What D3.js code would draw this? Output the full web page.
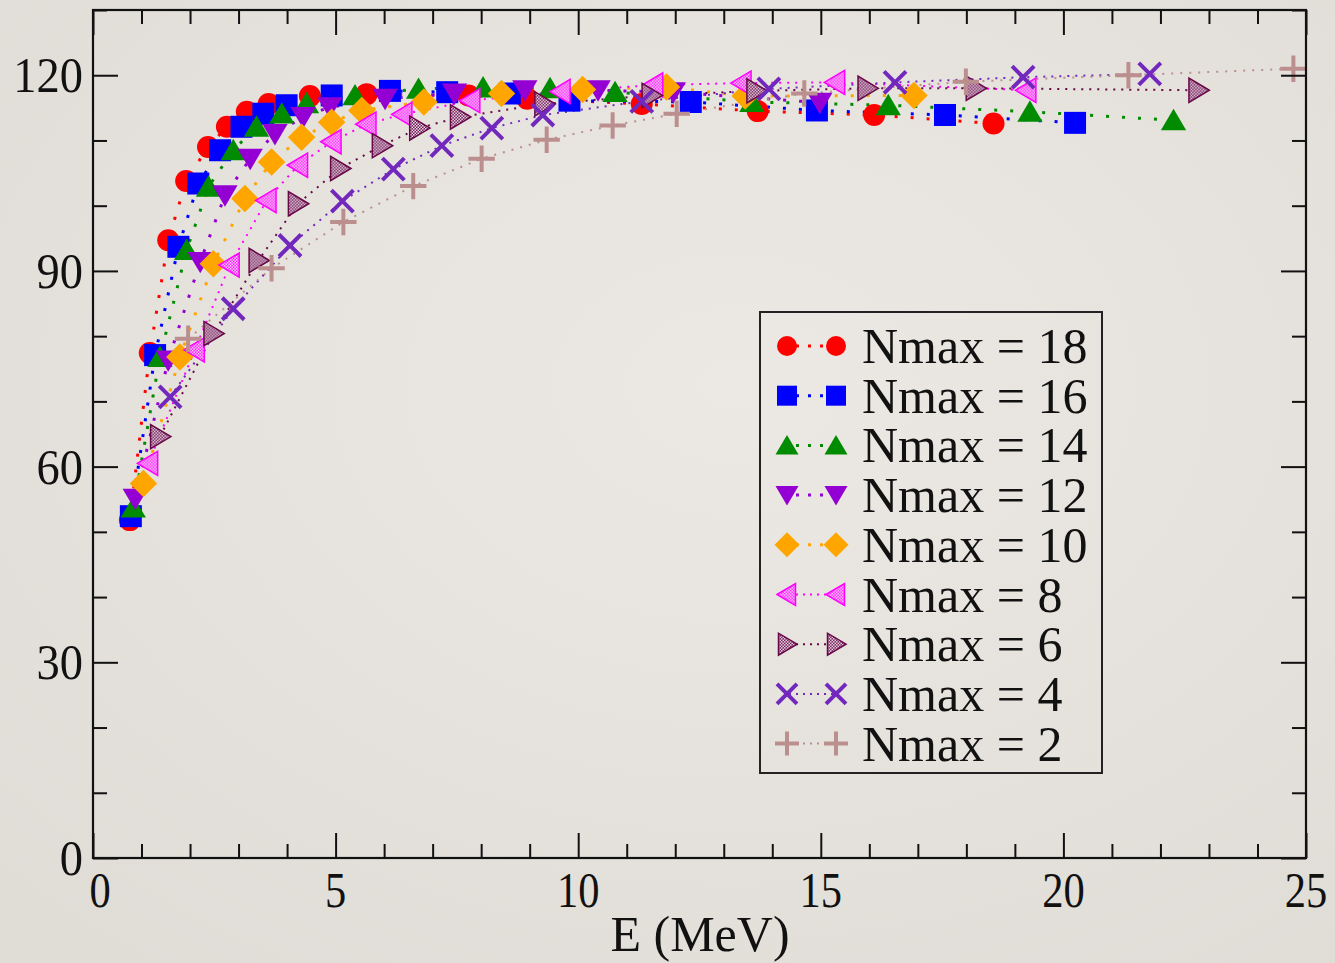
<!DOCTYPE html>
<html>
<head>
<meta charset="utf-8">
<script src="https://cdn.jsdelivr.net/npm/d3@7"></script>
<style>
  html, body { margin: 0; padding: 0; background: #e8e5df; }
  svg { display: block; }
  text { font-family: "Liberation Serif", "Times New Roman", serif; fill: #111; }
</style>
</head>
<body>
<svg id="chart" width="1335" height="963"></svg>
<script>
// ---- data: energy E (MeV) and value for each Nmax ----
const n18E = [0.76, 1.17, 1.55, 1.92, 2.37, 2.76, 3.17, 3.62, 4.47, 5.64, 7.74, 8.95, 11.31, 13.70, 16.10, 18.56];
const n18V = [51.8, 77.4, 94.7, 103.8, 109.0, 112.1, 114.4, 115.6, 116.8, 117.1, 116.9, 116.4, 115.6, 114.5, 113.9, 112.6];

const n16E = [0.78, 1.28, 1.76, 2.17, 2.62, 3.06, 3.51, 3.99, 4.92, 6.12, 7.30, 8.59, 9.82, 12.32, 14.92, 17.56, 20.24];
const n16V = [52.4, 77.1, 93.7, 103.4, 108.5, 112.1, 114.1, 115.4, 116.9, 117.6, 117.4, 117.2, 116.1, 115.9, 114.6, 113.9, 112.7];

const n14E = [0.83, 1.38, 1.93, 2.38, 2.89, 3.37, 3.89, 4.40, 5.40, 6.71, 8.04, 9.42, 10.76, 13.58, 16.39, 19.31, 22.27];
const n14V = [53.7, 76.8, 93.2, 102.9, 108.5, 112.1, 114.1, 115.7, 116.9, 117.9, 118.1, 118.0, 117.4, 115.9, 115.4, 114.4, 113.1];

const n12E = [0.87, 1.55, 2.21, 2.72, 3.24, 3.75, 4.33, 4.88, 6.02, 7.45, 8.90, 10.41, 11.96, 14.98];
const n12V = [55.1, 76.3, 91.4, 101.6, 107.2, 111.0, 113.6, 115.1, 116.4, 117.2, 117.7, 117.7, 117.4, 115.8];

const n10E = [1.04, 1.79, 2.48, 3.13, 3.68, 4.30, 4.92, 5.54, 6.82, 8.42, 10.09, 11.82, 13.44, 16.92];
const n10V = [57.4, 76.8, 91.1, 101.1, 106.7, 110.5, 112.8, 114.6, 115.9, 117.2, 117.8, 118.2, 116.8, 116.9];

const n8E = [1.14, 2.10, 2.82, 3.58, 4.23, 4.92, 5.64, 6.38, 7.78, 9.64, 11.55, 13.37, 15.30, 19.24];
const n8V = [60.5, 77.9, 90.9, 100.8, 106.2, 109.8, 112.5, 114.0, 116.1, 117.5, 118.5, 118.8, 118.9, 117.7];

const n6E = [1.38, 2.48, 3.41, 4.22, 5.09, 5.95, 6.72, 7.56, 9.30, 11.51, 13.67, 15.96, 18.19, 22.78];
const n6V = [64.6, 80.4, 91.6, 100.3, 105.7, 109.2, 111.9, 113.6, 115.6, 116.9, 117.6, 118.0, 118.0, 117.7];

const n4E = [1.59, 2.89, 4.06, 5.14, 6.19, 7.19, 8.22, 9.27, 11.31, 13.93, 16.53, 19.17, 21.78];
const n4V = [70.7, 84.2, 93.9, 100.7, 105.6, 109.2, 111.9, 113.9, 116.0, 117.9, 118.9, 119.7, 120.2];

const n2E = [1.96, 3.68, 5.16, 6.60, 8.01, 9.35, 10.71, 12.03, 14.66, 17.99, 21.34, 24.74];
const n2V = [79.6, 90.4, 97.5, 103.0, 107.2, 110.1, 112.3, 114.1, 117.2, 119.0, 120.0, 121.0];

const seriesLabels = ["Nmax = 18", "Nmax = 16", "Nmax = 14", "Nmax = 12", "Nmax = 10",
                      "Nmax = 8", "Nmax = 6", "Nmax = 4", "Nmax = 2"];

const xTicks = [0, 5, 10, 15, 20, 25];
const yTicks = [0, 30, 60, 90, 120];

// ---- styling per series ----
const styles = [
  { E: n18E, V: n18V, color: "#ff0000", shape: "circle",   dash: "3 13", lw: 3 },
  { E: n16E, V: n16V, color: "#0000ff", shape: "square",   dash: "3 13", lw: 3 },
  { E: n14E, V: n14V, color: "#008b00", shape: "triUp",    dash: "3 13", lw: 3 },
  { E: n12E, V: n12V, color: "#9400d3", shape: "triDown",  dash: "3 13", lw: 3 },
  { E: n10E, V: n10V, color: "#ffa500", shape: "diamond",  dash: "3 13", lw: 3 },
  { E: n8E,  V: n8V,  color: "#ff00ff", shape: "triLeft",  dash: "2 6",  lw: 2, pattern: "patMag" },
  { E: n6E,  V: n6V,  color: "#670748", shape: "triRight", dash: "2 6",  lw: 2, pattern: "patMar" },
  { E: n4E,  V: n4V,  color: "#7228bc", shape: "cross",    dash: "2 6",  lw: 2 },
  { E: n2E,  V: n2V,  color: "#bc8f8f", shape: "plus",     dash: "2 7",  lw: 2 }
];

const svg = d3.select("#chart");
const W = 1335, H = 963;

// soft paper-like background
const defs = svg.append("defs");
const bg = defs.append("radialGradient").attr("id", "bgGrad")
  .attr("cx", "55%").attr("cy", "40%").attr("r", "75%");
bg.append("stop").attr("offset", "0%").attr("stop-color", "#ece9e4");
bg.append("stop").attr("offset", "100%").attr("stop-color", "#e0ddd7");
svg.append("rect").attr("width", W).attr("height", H).attr("fill", "url(#bgGrad)");

// checkered fills for the hatched triangles
function checker(id, color) {
  const p = defs.append("pattern").attr("id", id).attr("patternUnits", "userSpaceOnUse")
    .attr("width", 3).attr("height", 3);
  p.append("rect").attr("width", 3).attr("height", 3).attr("fill", color);
  p.append("rect").attr("x", 0).attr("y", 0).attr("width", 1.5).attr("height", 1.5).attr("fill", "#f4eef4");
  p.append("rect").attr("x", 1.5).attr("y", 1.5).attr("width", 1.5).attr("height", 1.5).attr("fill", "#f4eef4");
}
checker("patMag", "#ff00ff");
checker("patMar", "#670748");

const x = d3.scaleLinear().domain([0, 25]).range([93, 1306]);
const y = d3.scaleLinear().domain([0, 130]).range([858, 10]);

// ---- marker shapes ----
function markerPath(shape, s) {
  switch (shape) {
    case "circle":  return d3.symbol(d3.symbolCircle, Math.PI * s * s)();
    case "square":  return `M${-s},${-s}H${s}V${s}H${-s}Z`;
    case "triUp":   return `M0,${-s * 1.05}L${s * 1.15},${s * 0.9}L${-s * 1.15},${s * 0.9}Z`;
    case "triDown": return `M0,${s * 1.05}L${s * 1.15},${-s * 0.9}L${-s * 1.15},${-s * 0.9}Z`;
    case "triLeft": return `M${-s * 1.0},0L${s * 0.85},${-s * 1.1}L${s * 0.85},${s * 1.1}Z`;
    case "triRight":return `M${s * 1.0},0L${-s * 0.85},${-s * 1.1}L${-s * 0.85},${s * 1.1}Z`;
    case "diamond": return `M0,${-s * 1.25}L${s * 1.25},0L0,${s * 1.25}L${-s * 1.25},0Z`;
    case "cross":   return `M${-s},${-s}L${s},${s}M${-s},${s}L${s},${-s}`;
    case "plus":    return `M${-s * 1.2},0H${s * 1.2}M0,${-s * 1.2}V${s * 1.2}`;
  }
}

function drawMarker(g, st, s) {
  const p = g.append("path").attr("d", markerPath(st.shape, s));
  if (st.shape === "cross" || st.shape === "plus") {
    p.attr("fill", "none").attr("stroke", st.color).attr("stroke-width", 4);
  } else if (st.pattern) {
    p.attr("fill", `url(#${st.pattern})`).attr("stroke", st.color).attr("stroke-width", 1.5);
  } else {
    p.attr("fill", st.color);
  }
  return p;
}

// ---- plotted series ----
const plot = svg.append("g");
const line = d3.line().x(d => x(d[0])).y(d => y(d[1]));

styles.forEach(st => {
  const pts = st.E.map((e, i) => [e, st.V[i]]);
  plot.append("path").datum(pts)
    .attr("d", line)
    .attr("fill", "none")
    .attr("stroke", st.color)
    .attr("stroke-width", st.lw)
    .attr("stroke-dasharray", st.dash);
});
styles.forEach(st => {
  const pts = st.E.map((e, i) => [e, st.V[i]]);
  pts.forEach(d => {
    const g = plot.append("g").attr("transform", `translate(${x(d[0])},${y(d[1])})`);
    drawMarker(g, st, 11);
  });
});

// ---- axes: frame with inward ticks on all four sides ----
const axes = svg.append("g");
function styleAxis(g) {
  g.select(".domain").remove();
  g.selectAll(".tick line").attr("stroke", "#111").attr("stroke-width", 2);
  g.selectAll(".tick text").remove();
}
const minorX = d3.range(0, 26, 1).filter(v => v % 5 !== 0);
const minorY = d3.range(0, 131, 10).filter(v => v % 30 !== 0);

axes.append("g").attr("transform", "translate(0,858)")
  .call(d3.axisBottom(x).tickValues(xTicks).tickSize(-25)).call(styleAxis);
axes.append("g").attr("transform", "translate(0,858)")
  .call(d3.axisBottom(x).tickValues(minorX).tickSize(-14)).call(styleAxis);
axes.append("g").attr("transform", "translate(0,10)")
  .call(d3.axisTop(x).tickValues(xTicks).tickSize(-25)).call(styleAxis);
axes.append("g").attr("transform", "translate(0,10)")
  .call(d3.axisTop(x).tickValues(minorX).tickSize(-14)).call(styleAxis);
axes.append("g").attr("transform", "translate(93,0)")
  .call(d3.axisLeft(y).tickValues(yTicks).tickSize(-25)).call(styleAxis);
axes.append("g").attr("transform", "translate(93,0)")
  .call(d3.axisLeft(y).tickValues(minorY).tickSize(-14)).call(styleAxis);
axes.append("g").attr("transform", "translate(1306,0)")
  .call(d3.axisRight(y).tickValues(yTicks).tickSize(-25)).call(styleAxis);
axes.append("g").attr("transform", "translate(1306,0)")
  .call(d3.axisRight(y).tickValues(minorY).tickSize(-14)).call(styleAxis);

axes.append("rect")
  .attr("x", 93).attr("y", 10).attr("width", 1306 - 93).attr("height", 858 - 10)
  .attr("fill", "none").attr("stroke", "#111").attr("stroke-width", 2.2);

// tick labels
axes.selectAll(".ylab").data(yTicks).enter().append("text")
  .attr("x", 83).attr("y", d => y(d) + 17)
  .attr("text-anchor", "end").attr("font-size", 50)
  .attr("transform", d => `translate(83,0) scale(0.93,1) translate(-83,0)`)
  .text(d => d);

axes.selectAll(".xlab").data(xTicks).enter().append("text")
  .attr("transform", d => `translate(${x(d) + (d === 0 ? 7 : 0)},907) scale(0.85,1)`)
  .attr("text-anchor", "middle").attr("font-size", 50)
  .text(d => d);

svg.append("text")
  .attr("x", 700).attr("y", 951)
  .attr("text-anchor", "middle").attr("font-size", 50)
  .text("E (MeV)");

// ---- legend ----
const leg = svg.append("g");
leg.append("rect").attr("x", 760).attr("y", 312).attr("width", 342).attr("height", 461)
  .attr("fill", "none").attr("stroke", "#222").attr("stroke-width", 2);

styles.forEach((st, i) => {
  const cy = 346 + i * 49.7;
  leg.append("line").attr("x1", 787).attr("x2", 836).attr("y1", cy).attr("y2", cy)
    .attr("stroke", st.color).attr("stroke-width", st.lw)
    .attr("stroke-dasharray", i < 5 ? "3 9" : "2 5")
    .attr("stroke-dashoffset", -9);
  [787, 836].forEach(cx => {
    const g = leg.append("g").attr("transform", `translate(${cx},${cy})`);
    drawMarker(g, st, 10);
  });
  leg.append("text").attr("x", 862).attr("y", cy + 17)
    .attr("font-size", 50).text(seriesLabels[i]);
});
</script>
</body>
</html>
